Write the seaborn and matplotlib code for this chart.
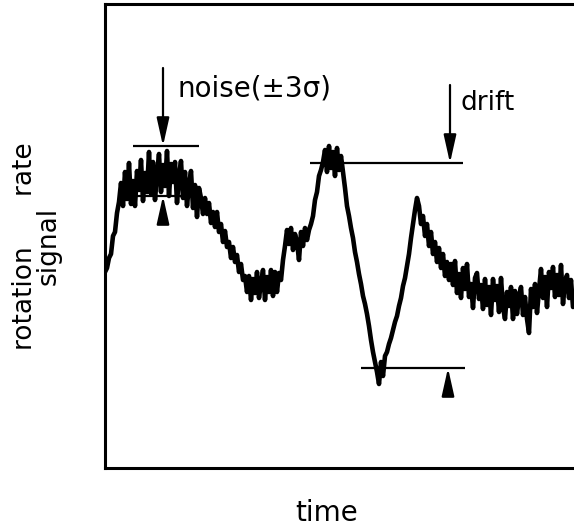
import numpy as np
import pandas as pd
import matplotlib
matplotlib.use("Agg")
import matplotlib.pyplot as plt
import seaborn as sns

# Recorded gyro output, sampled every 2 time units
signal = [
    # onset
    196, 200, 210, 214, 232, 236, 255, 266,
    # first noisy plateau
    285, 262, 296, 269, 305, 264, 287, 262, 297, 278,
    308, 267, 295, 276, 316, 274, 306, 268, 294, 314,
    276, 303, 282, 317, 272, 304, 286, 306, 265, 292,
    307, 270, 296, 262, 283, 297, 260, 283, 251, 280,
    # decay into first trough
    270, 254, 270, 254, 265, 245, 256, 241, 256, 236,
    244, 226, 237, 221, 226, 210, 221, 206, 213, 196,
    204, 188, 192,
    # first trough
    176, 192, 168, 189, 175, 196, 170, 185, 198, 168,
    191, 176, 198, 172, 196, 176, 195, 188,
    # shoulder
    208, 222, 238, 224, 240, 218, 234, 226, 208, 236,
    222, 240, 228, 238,
    # climb to the second maximum
    244, 252, 268, 276, 292, 298, 306,
    318, 296, 322, 300, 316, 292, 320, 298, 312, 296,
    # steep fall
    280, 262, 252, 240, 230, 216, 206, 194, 184, 172,
    164, 154, 142, 128, 116, 106, 96,
    84, 106, 92, 112,
    # recovery overshoot
    116, 124, 130, 138, 146, 152, 162, 170, 182, 190,
    202, 214, 230, 244, 258, 270,
    262, 244, 252, 232, 244, 222, 236, 214, 226, 206,
    220, 200, 214, 192, 206, 188,
    # settled tail
    204, 183, 207, 175, 194, 170, 200, 179, 204, 171,
    184, 160, 190, 195, 169, 183, 159, 189, 163, 181,
    153, 189, 168, 182, 156, 190, 161, 149, 176, 162,
    181, 149, 177, 154, 171, 181, 153, 171, 149, 135,
    179, 161, 184, 155, 178, 199, 170, 191, 161, 196,
    180, 201, 171, 193, 173, 203, 164, 186, 193, 170,
    188, 161,
]
time = np.arange(len(signal)) * 2

# Reference levels used for the annotations
noise_upper, noise_lower = 322, 272
drift_upper, drift_lower = 305, 100
noise_time, drift_time = 58, 345

sns.set_style("white")
plt.rcParams["font.family"] = ["DejaVu Sans"]
plt.rcParams["text.color"] = "black"

fig = plt.figure(figsize=(5.74, 5.31), dpi=100)
ax = fig.add_axes([105 / 574, 63 / 531, 1 - 105 / 574, 464 / 531])

df = pd.DataFrame({"time": time, "signal": signal})
sns.lineplot(data=df, x="time", y="signal", ax=ax, color="black",
             linewidth=3.3, estimator=None, zorder=3)

ax.set_xlim(0, 469)
ax.set_ylim(0, 464)
ax.set_xticks([])
ax.set_yticks([])
ax.set_xlabel("")
ax.set_ylabel("")
for side in ("left", "top", "bottom"):
    ax.spines[side].set_linewidth(2.2)
    ax.spines[side].set_color("black")
ax.spines["right"].set_visible(False)

line_kw = dict(color="black", linewidth=1.6, solid_capstyle="butt", zorder=4)
# noise band (±3σ)
ax.plot([28, 94], [noise_upper, noise_upper], **line_kw)
ax.plot([32, 88], [noise_lower, noise_lower], **line_kw)
# drift levels
ax.plot([205, 358], [drift_upper, drift_upper], **line_kw)
ax.plot([256, 360], [drift_lower, drift_lower], **line_kw)

head = dict(arrowstyle="-|>,head_length=1.7,head_width=0.38",
            color="black", linewidth=1.6, shrinkA=0, shrinkB=0)
ax.annotate("", xy=(noise_time, noise_upper), xytext=(noise_time, 400),
            arrowprops=head, zorder=5)
ax.annotate("", xy=(noise_time, noise_lower), xytext=(noise_time, noise_lower - 24),
            arrowprops=head, zorder=5)
ax.annotate("", xy=(drift_time, drift_upper), xytext=(drift_time, 383),
            arrowprops=head, zorder=5)
ax.annotate("", xy=(drift_time - 2, drift_lower), xytext=(drift_time - 2, drift_lower - 24),
            arrowprops=head, zorder=5)

ax.text(73, 379, "noise(±3σ)", fontsize=20, ha="left", va="center")
ax.text(355, 365, "drift", fontsize=19, ha="left", va="center")

fig.text(327 / 574, 1 - 513 / 531, "time", fontsize=20, ha="center", va="center")
# two-line vertical label: "rotation rate" over "signal"
fig.text(37 / 574, 1 - 246 / 531, "rotation      rate\nsignal", fontsize=19,
         rotation=90, ha="center", va="center", multialignment="center",
         linespacing=0.88)

fig.savefig("out.png", dpi=100)
